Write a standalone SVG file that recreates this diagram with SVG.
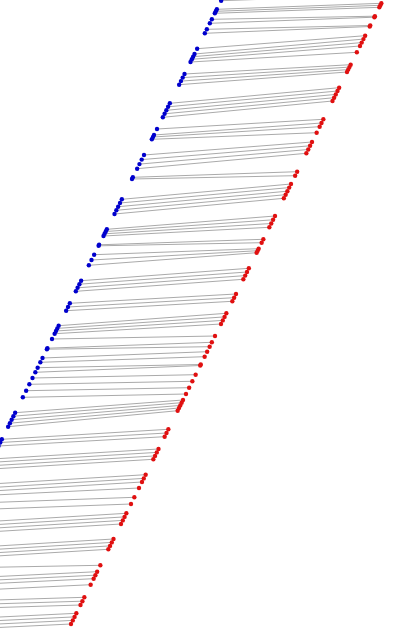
<svg xmlns="http://www.w3.org/2000/svg" width="409" height="630" viewBox="0 0 409 630">
<style>
.c{stroke:#aaaaaa;stroke-width:1;fill:none}
.b{fill:#0000cd}
.r{fill:#e01010}
</style>
<rect width="409" height="630" fill="#ffffff"/>
<g id="connectors">
<line class="c" x1="221.15" y1="0.7" x2="385.5" y2="-5"/>
<line class="c" x1="216.85" y1="9.3" x2="381.35" y2="3.3"/>
<line class="c" x1="215.85" y1="11.3" x2="380.35" y2="5.3"/>
<line class="c" x1="214.85" y1="13.3" x2="379.35" y2="7.3"/>
<line class="c" x1="211.85" y1="19.3" x2="374.9" y2="16.2"/>
<line class="c" x1="209.85" y1="23.3" x2="374.4" y2="17.2"/>
<line class="c" x1="206.85" y1="29.3" x2="370.25" y2="25.5"/>
<line class="c" x1="204.85" y1="33.3" x2="369.75" y2="26.5"/>
<line class="c" x1="197.15" y1="48.7" x2="365.15" y2="35.7"/>
<line class="c" x1="194.5" y1="54" x2="363.45" y2="39.1"/>
<line class="c" x1="193.15" y1="56.7" x2="361.7" y2="42.6"/>
<line class="c" x1="191.85" y1="59.3" x2="360" y2="46"/>
<line class="c" x1="190.5" y1="62" x2="356.85" y2="52.3"/>
<line class="c" x1="184.5" y1="74" x2="350.65" y2="64.7"/>
<line class="c" x1="182.7" y1="77.6" x2="349.45" y2="67.1"/>
<line class="c" x1="180.95" y1="81.1" x2="348.2" y2="69.6"/>
<line class="c" x1="179.15" y1="84.7" x2="347" y2="72"/>
<line class="c" x1="169.85" y1="103.3" x2="339.15" y2="87.7"/>
<line class="c" x1="168.1" y1="106.8" x2="337.5" y2="91"/>
<line class="c" x1="166.35" y1="110.3" x2="335.8" y2="94.4"/>
<line class="c" x1="164.6" y1="113.8" x2="334.15" y2="97.7"/>
<line class="c" x1="162.85" y1="117.3" x2="332.5" y2="101"/>
<line class="c" x1="157" y1="129" x2="323.35" y2="119.3"/>
<line class="c" x1="154" y1="135" x2="321.5" y2="123"/>
<line class="c" x1="153" y1="137" x2="319.65" y2="126.7"/>
<line class="c" x1="151.85" y1="139.3" x2="316.65" y2="132.7"/>
<line class="c" x1="144" y1="155" x2="312" y2="142"/>
<line class="c" x1="141.7" y1="159.6" x2="310.1" y2="145.8"/>
<line class="c" x1="139.45" y1="164.1" x2="308.25" y2="149.5"/>
<line class="c" x1="137.15" y1="168.7" x2="306.35" y2="153.3"/>
<line class="c" x1="132.85" y1="177.3" x2="297.15" y2="171.7"/>
<line class="c" x1="132" y1="179" x2="295.15" y2="175.7"/>
<line class="c" x1="121.85" y1="199.3" x2="291" y2="184"/>
<line class="c" x1="120" y1="203" x2="289.2" y2="187.6"/>
<line class="c" x1="118.15" y1="206.7" x2="287.4" y2="191.2"/>
<line class="c" x1="116.35" y1="210.3" x2="285.65" y2="194.7"/>
<line class="c" x1="114.5" y1="214" x2="283.85" y2="198.3"/>
<line class="c" x1="106.85" y1="229.3" x2="275" y2="216"/>
<line class="c" x1="105.75" y1="231.5" x2="273.1" y2="219.8"/>
<line class="c" x1="104.6" y1="233.8" x2="271.25" y2="223.5"/>
<line class="c" x1="103.5" y1="236" x2="269.35" y2="227.3"/>
<line class="c" x1="99.1" y1="244.8" x2="263.35" y2="239.3"/>
<line class="c" x1="98.6" y1="245.8" x2="261.65" y2="242.7"/>
<line class="c" x1="94.15" y1="254.7" x2="258.65" y2="248.7"/>
<line class="c" x1="91.5" y1="260" x2="257.65" y2="250.7"/>
<line class="c" x1="88.85" y1="265.3" x2="256.65" y2="252.7"/>
<line class="c" x1="81.15" y1="280.7" x2="248.85" y2="268.3"/>
<line class="c" x1="79.4" y1="284.2" x2="247" y2="272"/>
<line class="c" x1="77.6" y1="287.8" x2="245.2" y2="275.6"/>
<line class="c" x1="75.85" y1="291.3" x2="243.35" y2="279.3"/>
<line class="c" x1="69.85" y1="303.3" x2="236" y2="294"/>
<line class="c" x1="68" y1="307" x2="234.15" y2="297.7"/>
<line class="c" x1="66.15" y1="310.7" x2="232.35" y2="301.3"/>
<line class="c" x1="58.65" y1="325.7" x2="226.35" y2="313.3"/>
<line class="c" x1="57.3" y1="328.4" x2="224.55" y2="316.9"/>
<line class="c" x1="56" y1="331" x2="222.8" y2="320.4"/>
<line class="c" x1="54.65" y1="333.7" x2="221" y2="324"/>
<line class="c" x1="52" y1="339" x2="215" y2="336"/>
<line class="c" x1="47.4" y1="348.2" x2="211.85" y2="342.3"/>
<line class="c" x1="46.9" y1="349.2" x2="209.65" y2="346.7"/>
<line class="c" x1="42.5" y1="358" x2="207.15" y2="351.7"/>
<line class="c" x1="40.35" y1="362.3" x2="204.65" y2="356.7"/>
<line class="c" x1="37.65" y1="367.7" x2="200.75" y2="364.5"/>
<line class="c" x1="35.35" y1="372.3" x2="200.25" y2="365.5"/>
<line class="c" x1="32.5" y1="378" x2="195.65" y2="374.7"/>
<line class="c" x1="29.35" y1="384.3" x2="192.35" y2="381.3"/>
<line class="c" x1="26.15" y1="390.7" x2="189.15" y2="387.7"/>
<line class="c" x1="22.85" y1="397.3" x2="186" y2="394"/>
<line class="c" x1="15.15" y1="412.7" x2="183" y2="400"/>
<line class="c" x1="13.4" y1="416.2" x2="181.65" y2="402.7"/>
<line class="c" x1="11.65" y1="419.7" x2="180.3" y2="405.4"/>
<line class="c" x1="9.9" y1="423.2" x2="179" y2="408"/>
<line class="c" x1="8.15" y1="426.7" x2="177.65" y2="410.7"/>
<line class="c" x1="1.85" y1="439.3" x2="168.35" y2="429.3"/>
<line class="c" x1="0.25" y1="442.5" x2="166.5" y2="433"/>
<line class="c" x1="-1.5" y1="446" x2="164.65" y2="436.7"/>
<line class="c" x1="-8" y1="459" x2="158.5" y2="449"/>
<line class="c" x1="-9.7" y1="462.4" x2="156.8" y2="452.4"/>
<line class="c" x1="-11.45" y1="465.9" x2="155.05" y2="455.9"/>
<line class="c" x1="-13.15" y1="469.3" x2="153.35" y2="459.3"/>
<line class="c" x1="-20.85" y1="484.7" x2="145.65" y2="474.7"/>
<line class="c" x1="-22.7" y1="488.4" x2="143.8" y2="478.4"/>
<line class="c" x1="-24.5" y1="492" x2="142" y2="482"/>
<line class="c" x1="-26.5" y1="496" x2="139" y2="488"/>
<line class="c" x1="-30.15" y1="503.3" x2="134.35" y2="497.3"/>
<line class="c" x1="-33.5" y1="510" x2="131" y2="504"/>
<line class="c" x1="-40.15" y1="523.3" x2="126.35" y2="513.3"/>
<line class="c" x1="-41.95" y1="526.9" x2="124.55" y2="516.9"/>
<line class="c" x1="-43.7" y1="530.4" x2="122.8" y2="520.4"/>
<line class="c" x1="-45.5" y1="534" x2="121" y2="524"/>
<line class="c" x1="-53" y1="549" x2="113.5" y2="539"/>
<line class="c" x1="-54.7" y1="552.4" x2="111.8" y2="542.4"/>
<line class="c" x1="-56.45" y1="555.9" x2="110.05" y2="545.9"/>
<line class="c" x1="-58.15" y1="559.3" x2="108.35" y2="549.3"/>
<line class="c" x1="-62.65" y1="568.3" x2="100.35" y2="565.3"/>
<line class="c" x1="-68.35" y1="579.7" x2="97.15" y2="571.7"/>
<line class="c" x1="-70.1" y1="583.2" x2="95.4" y2="575.2"/>
<line class="c" x1="-71.85" y1="586.7" x2="93.65" y2="578.7"/>
<line class="c" x1="-74.85" y1="592.7" x2="90.65" y2="584.7"/>
<line class="c" x1="-79.65" y1="602.3" x2="84.35" y2="597.3"/>
<line class="c" x1="-81.6" y1="606.2" x2="82.4" y2="601.2"/>
<line class="c" x1="-83.5" y1="610" x2="80.5" y2="605"/>
<line class="c" x1="-89.15" y1="621.3" x2="76.35" y2="613.3"/>
<line class="c" x1="-90.95" y1="624.9" x2="74.55" y2="616.9"/>
<line class="c" x1="-92.7" y1="628.4" x2="72.8" y2="620.4"/>
<line class="c" x1="-94.5" y1="632" x2="71" y2="624"/>
</g>
<g id="blue-points">
<circle class="b" id="b01" cx="221.15" cy="0.7" r="2.2"/>
<circle class="b" id="b02" cx="216.85" cy="9.3" r="2.2"/>
<circle class="b" id="b03" cx="215.85" cy="11.3" r="2.2"/>
<circle class="b" id="b04" cx="214.85" cy="13.3" r="2.2"/>
<circle class="b" id="b05" cx="211.85" cy="19.3" r="2.2"/>
<circle class="b" id="b06" cx="209.85" cy="23.3" r="2.2"/>
<circle class="b" id="b07" cx="206.85" cy="29.3" r="2.2"/>
<circle class="b" id="b08" cx="204.85" cy="33.3" r="2.2"/>
<circle class="b" id="b09" cx="197.15" cy="48.7" r="2.2"/>
<circle class="b" id="b10" cx="194.5" cy="54" r="2.2"/>
<circle class="b" id="b11" cx="193.15" cy="56.7" r="2.2"/>
<circle class="b" id="b12" cx="191.85" cy="59.3" r="2.2"/>
<circle class="b" id="b13" cx="190.5" cy="62" r="2.2"/>
<circle class="b" id="b14" cx="184.5" cy="74" r="2.2"/>
<circle class="b" id="b15" cx="182.7" cy="77.6" r="2.2"/>
<circle class="b" id="b16" cx="180.95" cy="81.1" r="2.2"/>
<circle class="b" id="b17" cx="179.15" cy="84.7" r="2.2"/>
<circle class="b" id="b18" cx="169.85" cy="103.3" r="2.2"/>
<circle class="b" id="b19" cx="168.1" cy="106.8" r="2.2"/>
<circle class="b" id="b20" cx="166.35" cy="110.3" r="2.2"/>
<circle class="b" id="b21" cx="164.6" cy="113.8" r="2.2"/>
<circle class="b" id="b22" cx="162.85" cy="117.3" r="2.2"/>
<circle class="b" id="b23" cx="157" cy="129" r="2.2"/>
<circle class="b" id="b24" cx="154" cy="135" r="2.2"/>
<circle class="b" id="b25" cx="153" cy="137" r="2.2"/>
<circle class="b" id="b26" cx="151.85" cy="139.3" r="2.2"/>
<circle class="b" id="b27" cx="144" cy="155" r="2.2"/>
<circle class="b" id="b28" cx="141.7" cy="159.6" r="2.2"/>
<circle class="b" id="b29" cx="139.45" cy="164.1" r="2.2"/>
<circle class="b" id="b30" cx="137.15" cy="168.7" r="2.2"/>
<circle class="b" id="b31" cx="132.85" cy="177.3" r="2.2"/>
<circle class="b" id="b32" cx="132" cy="179" r="2.2"/>
<circle class="b" id="b33" cx="121.85" cy="199.3" r="2.2"/>
<circle class="b" id="b34" cx="120" cy="203" r="2.2"/>
<circle class="b" id="b35" cx="118.15" cy="206.7" r="2.2"/>
<circle class="b" id="b36" cx="116.35" cy="210.3" r="2.2"/>
<circle class="b" id="b37" cx="114.5" cy="214" r="2.2"/>
<circle class="b" id="b38" cx="106.85" cy="229.3" r="2.2"/>
<circle class="b" id="b39" cx="105.75" cy="231.5" r="2.2"/>
<circle class="b" id="b40" cx="104.6" cy="233.8" r="2.2"/>
<circle class="b" id="b41" cx="103.5" cy="236" r="2.2"/>
<circle class="b" id="b42" cx="99.1" cy="244.8" r="2.2"/>
<circle class="b" id="b43" cx="98.6" cy="245.8" r="2.2"/>
<circle class="b" id="b44" cx="94.15" cy="254.7" r="2.2"/>
<circle class="b" id="b45" cx="91.5" cy="260" r="2.2"/>
<circle class="b" id="b46" cx="88.85" cy="265.3" r="2.2"/>
<circle class="b" id="b47" cx="81.15" cy="280.7" r="2.2"/>
<circle class="b" id="b48" cx="79.4" cy="284.2" r="2.2"/>
<circle class="b" id="b49" cx="77.6" cy="287.8" r="2.2"/>
<circle class="b" id="b50" cx="75.85" cy="291.3" r="2.2"/>
<circle class="b" id="b51" cx="69.85" cy="303.3" r="2.2"/>
<circle class="b" id="b52" cx="68" cy="307" r="2.2"/>
<circle class="b" id="b53" cx="66.15" cy="310.7" r="2.2"/>
<circle class="b" id="b54" cx="58.65" cy="325.7" r="2.2"/>
<circle class="b" id="b55" cx="57.3" cy="328.4" r="2.2"/>
<circle class="b" id="b56" cx="56" cy="331" r="2.2"/>
<circle class="b" id="b57" cx="54.65" cy="333.7" r="2.2"/>
<circle class="b" id="b58" cx="52" cy="339" r="2.2"/>
<circle class="b" id="b59" cx="47.4" cy="348.2" r="2.2"/>
<circle class="b" id="b60" cx="46.9" cy="349.2" r="2.2"/>
<circle class="b" id="b61" cx="42.5" cy="358" r="2.2"/>
<circle class="b" id="b62" cx="40.35" cy="362.3" r="2.2"/>
<circle class="b" id="b63" cx="37.65" cy="367.7" r="2.2"/>
<circle class="b" id="b64" cx="35.35" cy="372.3" r="2.2"/>
<circle class="b" id="b65" cx="32.5" cy="378" r="2.2"/>
<circle class="b" id="b66" cx="29.35" cy="384.3" r="2.2"/>
<circle class="b" id="b67" cx="26.15" cy="390.7" r="2.2"/>
<circle class="b" id="b68" cx="22.85" cy="397.3" r="2.2"/>
<circle class="b" id="b69" cx="15.15" cy="412.7" r="2.2"/>
<circle class="b" id="b70" cx="13.4" cy="416.2" r="2.2"/>
<circle class="b" id="b71" cx="11.65" cy="419.7" r="2.2"/>
<circle class="b" id="b72" cx="9.9" cy="423.2" r="2.2"/>
<circle class="b" id="b73" cx="8.15" cy="426.7" r="2.2"/>
<circle class="b" id="b74" cx="1.85" cy="439.3" r="2.2"/>
<circle class="b" id="b75" cx="0.25" cy="442.5" r="2.2"/>
<circle class="b" id="b76" cx="-1.5" cy="446" r="2.2"/>
</g>
<g id="red-points">
<circle class="r" id="r01" cx="381.35" cy="3.3" r="2.2"/>
<circle class="r" id="r02" cx="380.35" cy="5.3" r="2.2"/>
<circle class="r" id="r03" cx="379.35" cy="7.3" r="2.2"/>
<circle class="r" id="r04" cx="374.9" cy="16.2" r="2.2"/>
<circle class="r" id="r05" cx="374.4" cy="17.2" r="2.2"/>
<circle class="r" id="r06" cx="370.25" cy="25.5" r="2.2"/>
<circle class="r" id="r07" cx="369.75" cy="26.5" r="2.2"/>
<circle class="r" id="r08" cx="365.15" cy="35.7" r="2.2"/>
<circle class="r" id="r09" cx="363.45" cy="39.1" r="2.2"/>
<circle class="r" id="r10" cx="361.7" cy="42.6" r="2.2"/>
<circle class="r" id="r11" cx="360" cy="46" r="2.2"/>
<circle class="r" id="r12" cx="356.85" cy="52.3" r="2.2"/>
<circle class="r" id="r13" cx="350.65" cy="64.7" r="2.2"/>
<circle class="r" id="r14" cx="349.45" cy="67.1" r="2.2"/>
<circle class="r" id="r15" cx="348.2" cy="69.6" r="2.2"/>
<circle class="r" id="r16" cx="347" cy="72" r="2.2"/>
<circle class="r" id="r17" cx="339.15" cy="87.7" r="2.2"/>
<circle class="r" id="r18" cx="337.5" cy="91" r="2.2"/>
<circle class="r" id="r19" cx="335.8" cy="94.4" r="2.2"/>
<circle class="r" id="r20" cx="334.15" cy="97.7" r="2.2"/>
<circle class="r" id="r21" cx="332.5" cy="101" r="2.2"/>
<circle class="r" id="r22" cx="323.35" cy="119.3" r="2.2"/>
<circle class="r" id="r23" cx="321.5" cy="123" r="2.2"/>
<circle class="r" id="r24" cx="319.65" cy="126.7" r="2.2"/>
<circle class="r" id="r25" cx="316.65" cy="132.7" r="2.2"/>
<circle class="r" id="r26" cx="312" cy="142" r="2.2"/>
<circle class="r" id="r27" cx="310.1" cy="145.8" r="2.2"/>
<circle class="r" id="r28" cx="308.25" cy="149.5" r="2.2"/>
<circle class="r" id="r29" cx="306.35" cy="153.3" r="2.2"/>
<circle class="r" id="r30" cx="297.15" cy="171.7" r="2.2"/>
<circle class="r" id="r31" cx="295.15" cy="175.7" r="2.2"/>
<circle class="r" id="r32" cx="291" cy="184" r="2.2"/>
<circle class="r" id="r33" cx="289.2" cy="187.6" r="2.2"/>
<circle class="r" id="r34" cx="287.4" cy="191.2" r="2.2"/>
<circle class="r" id="r35" cx="285.65" cy="194.7" r="2.2"/>
<circle class="r" id="r36" cx="283.85" cy="198.3" r="2.2"/>
<circle class="r" id="r37" cx="275" cy="216" r="2.2"/>
<circle class="r" id="r38" cx="273.1" cy="219.8" r="2.2"/>
<circle class="r" id="r39" cx="271.25" cy="223.5" r="2.2"/>
<circle class="r" id="r40" cx="269.35" cy="227.3" r="2.2"/>
<circle class="r" id="r41" cx="263.35" cy="239.3" r="2.2"/>
<circle class="r" id="r42" cx="261.65" cy="242.7" r="2.2"/>
<circle class="r" id="r43" cx="258.65" cy="248.7" r="2.2"/>
<circle class="r" id="r44" cx="257.65" cy="250.7" r="2.2"/>
<circle class="r" id="r45" cx="256.65" cy="252.7" r="2.2"/>
<circle class="r" id="r46" cx="248.85" cy="268.3" r="2.2"/>
<circle class="r" id="r47" cx="247" cy="272" r="2.2"/>
<circle class="r" id="r48" cx="245.2" cy="275.6" r="2.2"/>
<circle class="r" id="r49" cx="243.35" cy="279.3" r="2.2"/>
<circle class="r" id="r50" cx="236" cy="294" r="2.2"/>
<circle class="r" id="r51" cx="234.15" cy="297.7" r="2.2"/>
<circle class="r" id="r52" cx="232.35" cy="301.3" r="2.2"/>
<circle class="r" id="r53" cx="226.35" cy="313.3" r="2.2"/>
<circle class="r" id="r54" cx="224.55" cy="316.9" r="2.2"/>
<circle class="r" id="r55" cx="222.8" cy="320.4" r="2.2"/>
<circle class="r" id="r56" cx="221" cy="324" r="2.2"/>
<circle class="r" id="r57" cx="215" cy="336" r="2.2"/>
<circle class="r" id="r58" cx="211.85" cy="342.3" r="2.2"/>
<circle class="r" id="r59" cx="209.65" cy="346.7" r="2.2"/>
<circle class="r" id="r60" cx="207.15" cy="351.7" r="2.2"/>
<circle class="r" id="r61" cx="204.65" cy="356.7" r="2.2"/>
<circle class="r" id="r62" cx="200.75" cy="364.5" r="2.2"/>
<circle class="r" id="r63" cx="200.25" cy="365.5" r="2.2"/>
<circle class="r" id="r64" cx="195.65" cy="374.7" r="2.2"/>
<circle class="r" id="r65" cx="192.35" cy="381.3" r="2.2"/>
<circle class="r" id="r66" cx="189.15" cy="387.7" r="2.2"/>
<circle class="r" id="r67" cx="186" cy="394" r="2.2"/>
<circle class="r" id="r68" cx="183" cy="400" r="2.2"/>
<circle class="r" id="r69" cx="181.65" cy="402.7" r="2.2"/>
<circle class="r" id="r70" cx="180.3" cy="405.4" r="2.2"/>
<circle class="r" id="r71" cx="179" cy="408" r="2.2"/>
<circle class="r" id="r72" cx="177.65" cy="410.7" r="2.2"/>
<circle class="r" id="r73" cx="168.35" cy="429.3" r="2.2"/>
<circle class="r" id="r74" cx="166.5" cy="433" r="2.2"/>
<circle class="r" id="r75" cx="164.65" cy="436.7" r="2.2"/>
<circle class="r" id="r76" cx="158.5" cy="449" r="2.2"/>
<circle class="r" id="r77" cx="156.8" cy="452.4" r="2.2"/>
<circle class="r" id="r78" cx="155.05" cy="455.9" r="2.2"/>
<circle class="r" id="r79" cx="153.35" cy="459.3" r="2.2"/>
<circle class="r" id="r80" cx="145.65" cy="474.7" r="2.2"/>
<circle class="r" id="r81" cx="143.8" cy="478.4" r="2.2"/>
<circle class="r" id="r82" cx="142" cy="482" r="2.2"/>
<circle class="r" id="r83" cx="139" cy="488" r="2.2"/>
<circle class="r" id="r84" cx="134.35" cy="497.3" r="2.2"/>
<circle class="r" id="r85" cx="131" cy="504" r="2.2"/>
<circle class="r" id="r86" cx="126.35" cy="513.3" r="2.2"/>
<circle class="r" id="r87" cx="124.55" cy="516.9" r="2.2"/>
<circle class="r" id="r88" cx="122.8" cy="520.4" r="2.2"/>
<circle class="r" id="r89" cx="121" cy="524" r="2.2"/>
<circle class="r" id="r90" cx="113.5" cy="539" r="2.2"/>
<circle class="r" id="r91" cx="111.8" cy="542.4" r="2.2"/>
<circle class="r" id="r92" cx="110.05" cy="545.9" r="2.2"/>
<circle class="r" id="r93" cx="108.35" cy="549.3" r="2.2"/>
<circle class="r" id="r94" cx="100.35" cy="565.3" r="2.2"/>
<circle class="r" id="r95" cx="97.15" cy="571.7" r="2.2"/>
<circle class="r" id="r96" cx="95.4" cy="575.2" r="2.2"/>
<circle class="r" id="r97" cx="93.65" cy="578.7" r="2.2"/>
<circle class="r" id="r98" cx="90.65" cy="584.7" r="2.2"/>
<circle class="r" id="r99" cx="84.35" cy="597.3" r="2.2"/>
<circle class="r" id="r100" cx="82.4" cy="601.2" r="2.2"/>
<circle class="r" id="r101" cx="80.5" cy="605" r="2.2"/>
<circle class="r" id="r102" cx="76.35" cy="613.3" r="2.2"/>
<circle class="r" id="r103" cx="74.55" cy="616.9" r="2.2"/>
<circle class="r" id="r104" cx="72.8" cy="620.4" r="2.2"/>
<circle class="r" id="r105" cx="71" cy="624" r="2.2"/>
</g>
</svg>
